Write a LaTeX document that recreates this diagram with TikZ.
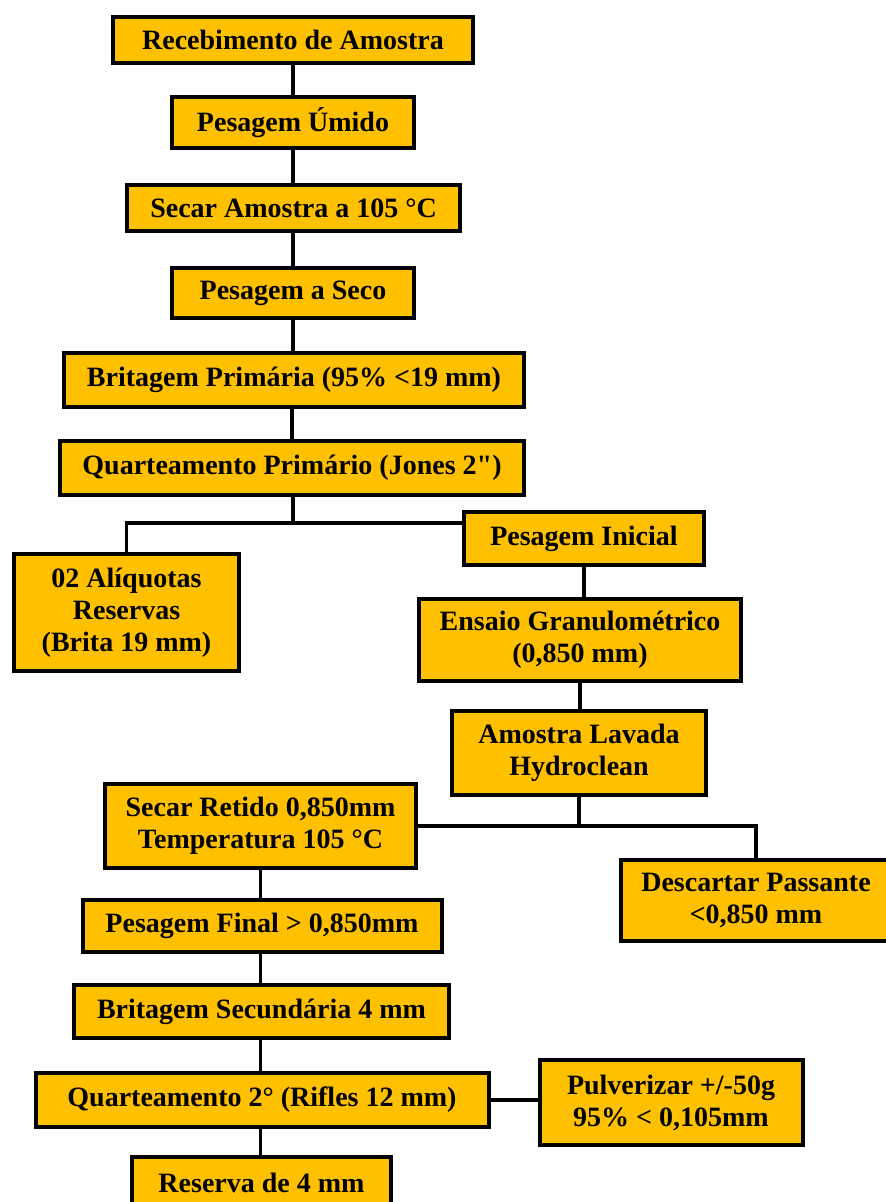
\documentclass[tikz,border=0pt]{standalone}
\usepackage{fontspec}
\setmainfont{Liberation Serif}[Ligatures=TeXOff]
\definecolor{boxfill}{HTML}{FFC000}
\begin{document}
\begin{tikzpicture}[x=1pt,y=-1pt,
  box/.style={rectangle, draw=black, line width=4pt, fill=boxfill, align=center,
    inner sep=0pt, font=\fontsize{28}{32}\selectfont\bfseries},
  link/.style={draw=black, line width=3.5pt}]
\useasboundingbox (0,0) rectangle (886,1202);
\clip (0,0) rectangle (886,1202);
% nodes
\node[box, minimum width=360pt, minimum height=46pt] (rec) at (293,40) {Recebimento de Amostra};
\node[box, minimum width=242pt, minimum height=51pt] (pu) at (293,122.5) {Pesagem Úmido};
\node[box, minimum width=333pt, minimum height=46pt] (sa) at (293.5,208) {Secar Amostra a 105 °C};
\node[box, minimum width=242pt, minimum height=50pt] (ps) at (293,293) {Pesagem a Seco};
\node[box, minimum width=460pt, minimum height=54pt] (bp) at (294,380) {Britagem Primária (95\% <19 mm)};
\node[box, minimum width=464pt, minimum height=54pt] (qp) at (292,468) {Quarteamento Primário (Jones 2")};
\node[box, minimum width=225pt, minimum height=117pt] (al) at (126.5,612.5) {02 Alíquotas\\Reservas\\(Brita 19 mm)};
\node[box, minimum width=240pt, minimum height=53pt] (pi) at (584,538.5) {Pesagem Inicial};
\node[box, minimum width=322pt, minimum height=82pt] (eg) at (580,640) {Ensaio Granulométrico\\(0,850 mm)};
\node[box, minimum width=254pt, minimum height=84pt] (al2) at (579,753) {Amostra Lavada\\Hydroclean};
\node[box, minimum width=311pt, minimum height=84pt] (sr) at (260.5,826) {Secar Retido 0,850mm\\Temperatura 105 °C};
\node[box, minimum width=270pt, minimum height=81pt] (dp) at (756,900.5) {Descartar Passante\\<0,850 mm};
\node[box, minimum width=359pt, minimum height=52pt] (pf) at (262,926) {Pesagem Final > 0,850mm};
\node[box, minimum width=375pt, minimum height=53pt] (bs) at (261.5,1011.5) {Britagem Secundária 4 mm};
\node[box, minimum width=453pt, minimum height=54pt] (q2) at (262,1100) {Quarteamento 2° (Rifles 12 mm)};
\node[box, minimum width=263pt, minimum height=85pt] (pv) at (671,1102.5) {Pulverizar +/-50g\\95\% < 0,105mm};
\node[box, minimum width=259pt, minimum height=52pt] (r4) at (261.5,1183) {Reserva de 4 mm};
% connectors
\coordinate (j1) at (293,523);
\draw[link] (rec.south) -- (pu.north);
\draw[link] (pu.south) -- (pu.south |- sa.north);
\draw[link] (sa.south -| ps.north) -- (ps.north);
\draw[link] (ps.south) -- (ps.south |- bp.north);
\draw[link] (bp.south -| qp.north) -- (qp.north);
\draw[link] (qp.south -| j1) -- (j1);
\draw[link] (al.north) |- (j1) -- (pi.west |- j1);
\draw[link] (pi.south) -- (pi.south |- eg.north);
\draw[link] (eg.south) -- (eg.south |- al2.north);
\draw[link] (al2.south) -- (al2.south |- sr.east);
\draw[link] (sr.east) -- (dp.north |- sr.east) -- (dp.north);
\draw[link] (sr.south) -- (sr.south |- pf.north);
\draw[link] (pf.south -| sr.south) -- (bs.north -| sr.south);
\draw[link] (bs.south -| sr.south) -- (q2.north -| sr.south);
\draw[link] (q2.east) -- (pv.west |- q2.east);
\draw[link] (q2.south -| sr.south) -- (r4.north -| sr.south);
\end{tikzpicture}
\end{document}
